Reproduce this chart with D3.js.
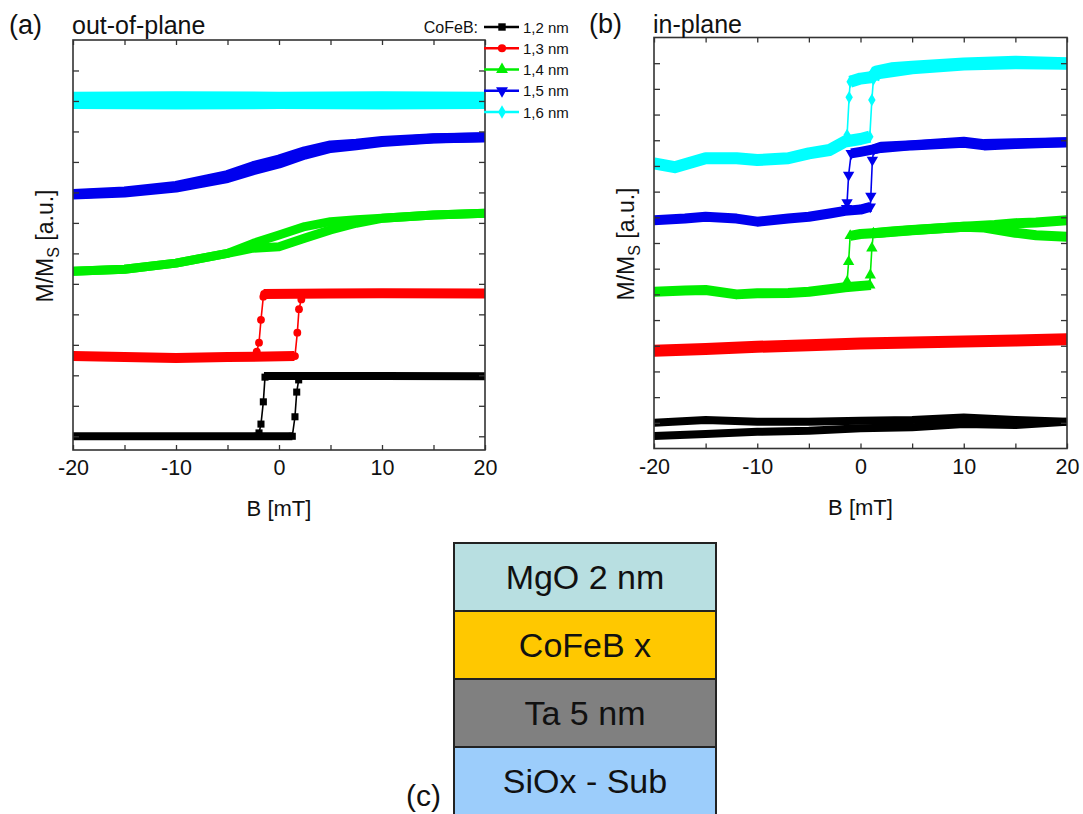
<!DOCTYPE html>
<html><head><meta charset="utf-8">
<script src="https://cdn.jsdelivr.net/npm/d3@7"></script>
<style>
body{margin:0;background:#fff}
svg{display:block}
text{font-family:"Liberation Sans",Arial,sans-serif;fill:#111}
</style>
</head><body>
<svg id="fig" width="1083" height="814"></svg>
<script>
// ---- tick labels / categories ----
const fieldTicks = [-20, -10, 0, 10, 20];
const thicknessLabels = ["1,2 nm", "1,3 nm", "1,4 nm", "1,5 nm", "1,6 nm"];
const stackLayers = ["MgO 2 nm", "CoFeB x", "Ta 5 nm", "SiOx - Sub"];

// ---- (a) out-of-plane loops: [B (mT), M/Ms (a.u., offset)] ----
// plateau traces (dense, noisy data) and switching points (individual markers)
const oop12Bands = [
  [[-20, 0.0], [-10, 0.0], [0, 0.0], [1.3, 0.0]],
  [[-1.46, 1.98], [0, 1.98], [10, 1.98], [20, 1.97]]
];
const oop12Switches = [
  [[1.29, 0.0], [1.55, 0.64], [1.72, 1.45], [1.91, 1.85], [2.04, 1.98]],
  [[-1.36, 1.94], [-1.52, 1.13], [-1.75, 0.40], [-1.94, 0.11], [-2.1, 0.0]]
];
const oop13Bands = [
  [[-20, 2.63], [-15, 2.6], [-10, 2.57], [-5, 2.6], [1.5, 2.63]],
  [[-1.5, 4.67], [5, 4.68], [10, 4.69], [20, 4.68]]
];
const oop13Switches = [
  [[1.55, 2.63], [1.78, 3.40], [1.94, 4.17], [2.17, 4.49], [2.35, 4.67]],
  [[-1.45, 4.67], [-1.52, 4.58], [-1.75, 3.82], [-1.94, 3.07], [-2.16, 2.78], [-2.25, 2.63]]
];
const oop14Bands = [
  [[-20, 5.41], [-15, 5.48], [-10, 5.68], [-5, 6.0], [-2.5, 6.17], [0, 6.22], [2.5, 6.5], [5, 6.77], [7.5, 6.99], [10, 7.15], [15, 7.26], [20, 7.32]],
  [[20, 7.32], [15, 7.26], [10, 7.15], [7.5, 7.10], [5, 7.04], [2.5, 6.88], [0, 6.60], [-2.5, 6.33], [-5, 6.0], [-10, 5.68], [-15, 5.48], [-20, 5.41]]
];
const oop15Bands = [
  [[-20, 7.93], [-15, 8.0], [-10, 8.16], [-5, 8.47], [-2.5, 8.73], [0, 8.95], [2.5, 9.24], [5, 9.46], [7.5, 9.55], [10, 9.65], [15, 9.77], [20, 9.81]],
  [[20, 9.81], [15, 9.78], [10, 9.69], [7.5, 9.6], [5, 9.54], [2.5, 9.35], [0, 9.08], [-2.5, 8.86], [-5, 8.57], [-10, 8.21], [-15, 8.03], [-20, 7.95]]
];
const oop16Bands = [
  [[-20, 11.06], [-10, 11.07], [0, 11.06], [10, 11.07], [20, 11.06]],
  [[20, 10.98], [10, 10.97], [0, 10.98], [-10, 10.97], [-20, 10.98]]
];

// ---- (b) in-plane loops ----
const ip12Bands = [
  [[-20, 1.0], [-15, 1.11], [-10, 1.04], [-5, 1.04], [0, 1.08], [5, 1.11], [10, 1.21], [15, 1.11], [20, 1.04]],
  [[-20, 0.49], [-15, 0.56], [-10, 0.65], [-5, 0.69], [0, 0.79], [5, 0.83], [10, 0.95], [15, 0.91], [20, 1.04]]
];
const ip13Bands = [
  [[-20, 3.81], [-15, 3.87], [-10, 3.96], [-5, 4.02], [0, 4.09], [5, 4.13], [10, 4.17], [15, 4.2], [20, 4.25]]
];
const ip14Bands = [
  [[-20, 6.1], [-17, 6.15], [-15, 6.17], [-12, 6.0], [-10, 6.04], [-7, 6.05], [-5, 6.1], [-3, 6.2], [-1.5, 6.28], [1, 6.36]],
  [[1.25, 8.38], [3, 8.45], [5, 8.51], [10, 8.63], [13, 8.7], [15, 8.77], [17, 8.8], [20, 8.89]],
  [[20, 8.24], [17, 8.3], [15, 8.4], [12, 8.6], [10, 8.63], [5, 8.5], [2, 8.4], [0, 8.35], [-1, 8.28]]
];
const ip14Switches = [
  [[0.9, 6.36], [0.95, 6.75], [1.1, 7.8], [1.25, 8.38]],
  [[-1.0, 8.28], [-1.15, 7.27], [-1.3, 6.49], [-1.4, 6.3]]
];
const ip15Bands = [
  [[-20, 8.89], [-17, 8.95], [-15, 9.02], [-12, 8.95], [-10, 8.83], [-7, 8.95], [-5, 9.02], [-3, 9.15], [-1.5, 9.25], [0, 9.3], [1, 9.41]],
  [[1.3, 11.65], [2, 11.75], [5, 11.81], [10, 11.94], [12, 11.85], [15, 11.88], [20, 11.92]],
  [[20, 11.92], [15, 11.85], [12, 11.8], [10, 11.9], [5, 11.8], [2, 11.7], [0, 11.55], [-0.9, 11.49]]
];
const ip15Switches = [
  [[0.95, 9.41], [1.0, 9.83], [1.15, 11.23], [1.3, 11.65]],
  [[-0.9, 11.49], [-1.15, 10.65], [-1.3, 9.58], [-1.35, 9.35]]
];
const ip16Bands = [
  [[-20, 11.1], [-18, 10.95], [-15, 11.3], [-12, 11.3], [-10, 11.23], [-7, 11.3], [-5, 11.49], [-3, 11.62], [-1.5, 11.95], [0, 12.05], [0.9, 12.14]],
  [[1.25, 14.37], [1.5, 14.67], [3, 14.8], [5, 14.86], [10, 14.99], [15, 15.06], [20, 15.0]],
  [[20, 14.98], [15, 15.0], [10, 14.95], [5, 14.8], [1.5, 14.6], [1, 14.45], [0, 14.4], [-1, 14.28]]
];
const ip16Switches = [
  [[0.9, 12.14], [1.1, 13.57], [1.25, 14.37]],
  [[-1, 14.28], [-1.1, 13.67], [-1.3, 12.2], [-1.4, 12.0]]
];

// ---- styling ----
const colors = ["#000000", "#ff0000", "#00ee00", "#0000ee", "#00ffff"];
const symbols = [d3.symbolSquare, d3.symbolCircle, d3.symbolTriangle, d3.symbolTriangle, d3.symbolDiamond];
const symbolSizes = [50, 48, 56, 56, 48];
const symbolRot = [0, 0, 0, 180, 0];
const axisColor = "#333";

const svg = d3.select("#fig");

function markerPath(i, size) {
  return d3.symbol().type(symbols[i]).size(size || symbolSizes[i])();
}

function drawPanel(cfg) {
  const { x, y, series, yTicks, id } = cfg;
  const [x0, x1] = x.range();
  const [yb, yt] = y.range();
  const g = svg.append("g");

  g.append("clipPath").attr("id", id).append("rect")
    .attr("x", x0).attr("y", yt).attr("width", x1 - x0).attr("height", yb - yt);

  const plot = g.append("g").attr("clip-path", `url(#${id})`);
  const line = d3.line().x(d => x(d[0])).y(d => y(d[1]));

  series.forEach(s => {
    const sg = plot.append("g");
    s.bands.forEach(b => {
      sg.append("path").attr("d", line(b)).attr("fill", "none")
        .attr("stroke", colors[s.idx]).attr("stroke-width", s.width)
        .attr("stroke-linejoin", "round").attr("stroke-linecap", "butt");
    });
    (s.switches || []).forEach(sw => {
      sg.append("path").attr("d", line(sw)).attr("fill", "none")
        .attr("stroke", colors[s.idx]).attr("stroke-width", 1.6);
      sg.selectAll(null).data(sw).join("path")
        .attr("d", markerPath(s.idx))
        .attr("transform", d => `translate(${x(d[0])},${y(d[1])}) rotate(${symbolRot[s.idx]})`)
        .attr("fill", colors[s.idx]);
    });
  });

  // axes with inward ticks on all four sides
  const minor = d3.range(-20, 21, 5);
  const fmt = d => (fieldTicks.includes(d) ? String(d) : "");
  const bottom = g.append("g").attr("transform", `translate(0,${yb})`)
    .call(d3.axisBottom(x).tickValues(minor).tickSize(-5).tickPadding(10).tickFormat(fmt));
  const top = g.append("g").attr("transform", `translate(0,${yt})`)
    .call(d3.axisTop(x).tickValues(minor).tickSize(-5).tickFormat(""));
  const left = g.append("g").attr("transform", `translate(${x0},0)`)
    .call(d3.axisLeft(y).tickValues(yTicks).tickSize(-6).tickFormat(""));
  const right = g.append("g").attr("transform", `translate(${x1},0)`)
    .call(d3.axisRight(y).tickValues(yTicks).tickSize(-6).tickFormat(""));
  [bottom, top, left, right].forEach(a => {
    a.select(".domain").remove();
    a.selectAll(".tick line").attr("stroke", axisColor).attr("stroke-width", 1.3);
  });
  bottom.selectAll("text").attr("font-size", 21.5).attr("fill", "#111");

  g.append("rect").attr("x", x0).attr("y", yt).attr("width", x1 - x0).attr("height", yb - yt)
    .attr("fill", "none").attr("stroke", axisColor).attr("stroke-width", 1.6);

  // axis titles
  const cx = (x0 + x1) / 2;
  g.append("text").attr("x", cx).attr("y", yb + 66).attr("text-anchor", "middle")
    .attr("font-size", 22).text("B [mT]");
  const yl = g.append("text").attr("transform", `translate(${x0 - 20},${(yt + yb) / 2 + 1}) rotate(-90)`)
    .attr("text-anchor", "middle").attr("font-size", 23);
  yl.append("tspan").text("M/M");
  yl.append("tspan").attr("font-size", 16).attr("dy", 6).text("S");
  yl.append("tspan").attr("dy", -6).text(" [a.u.]");

  return g;
}

// (a) out-of-plane
const xa = d3.scaleLinear([-20, 20], [73, 485]);
const ya = d3.scaleLinear([-0.45, 13], [450, 40]);
drawPanel({
  id: "clipA", x: xa, y: ya, yTicks: d3.range(0, 13),
  series: [
    { idx: 4, bands: oop16Bands, width: 15 },
    { idx: 3, bands: oop15Bands, width: 10 },
    { idx: 2, bands: oop14Bands, width: 9 },
    { idx: 1, bands: oop13Bands, switches: oop13Switches, width: 10 },
    { idx: 0, bands: oop12Bands, switches: oop12Switches, width: 8 }
  ]
});

// (b) in-plane
const xb = d3.scaleLinear([-20, 20], [654, 1067]);
const yb = d3.scaleLinear([0, 16], [448.5, 37.5]);
drawPanel({
  id: "clipB", x: xb, y: yb, yTicks: d3.range(1, 16),
  series: [
    { idx: 4, bands: ip16Bands, switches: ip16Switches, width: 12 },
    { idx: 3, bands: ip15Bands, switches: ip15Switches, width: 10 },
    { idx: 2, bands: ip14Bands, switches: ip14Switches, width: 10 },
    { idx: 1, bands: ip13Bands, width: 12 },
    { idx: 0, bands: ip12Bands, width: 8 }
  ]
});

// panel labels
svg.append("text").attr("x", 9).attr("y", 34).attr("font-size", 27).text("(a)");
svg.append("text").attr("x", 72).attr("y", 34).attr("font-size", 25).text("out-of-plane");
svg.append("text").attr("x", 589).attr("y", 33).attr("font-size", 27).text("(b)");
svg.append("text").attr("x", 653).attr("y", 33).attr("font-size", 25).text("in-plane");

// legend
const leg = svg.append("g");
leg.append("text").attr("x", 478).attr("y", 33).attr("text-anchor", "end")
  .attr("font-size", 16).text("CoFeB:");
const legRow = d3.scaleLinear([0, 4], [27, 112]);
thicknessLabels.forEach((lab, i) => {
  const yy = legRow(i);
  leg.append("line").attr("x1", 484).attr("x2", 519).attr("y1", yy).attr("y2", yy)
    .attr("stroke", colors[i]).attr("stroke-width", 2.4);
  leg.append("path").attr("d", markerPath(i, symbolSizes[i] * 1.1))
    .attr("transform", `translate(502,${yy}) rotate(${symbolRot[i]})`).attr("fill", colors[i]);
  leg.append("text").attr("x", 523).attr("y", yy + 5.5).attr("font-size", 15).text(lab);
});

// (c) layer stack
const layerFill = ["#b8dfe1", "#ffc800", "#808080", "#9ccdfb"];
const ys = d3.scaleBand(stackLayers, [543, 815]);
const stack = svg.append("g");
stackLayers.forEach((l, i) => {
  stack.append("rect").attr("x", 454).attr("y", ys(l)).attr("width", 262).attr("height", ys.bandwidth())
    .attr("fill", layerFill[i]).attr("stroke", "#222").attr("stroke-width", 2);
  stack.append("text").attr("x", 585).attr("y", ys(l) + ys.bandwidth() / 2 + 12)
    .attr("text-anchor", "middle").attr("font-size", 34).text(l);
});
svg.append("text").attr("x", 406).attr("y", 806).attr("font-size", 30).text("(c)");
</script>
</body></html>
